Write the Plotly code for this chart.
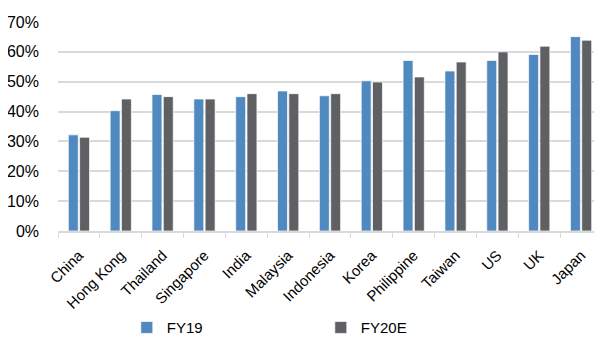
import plotly.graph_objects as go

categories = ["China", "Hong Kong", "Thailand", "Singapore", "India", "Malaysia",
              "Indonesia", "Korea", "Philippine", "Taiwan", "US", "UK", "Japan"]
fy19 = [0.322, 0.403, 0.457, 0.442, 0.450, 0.469, 0.453, 0.503, 0.571, 0.536, 0.571, 0.591, 0.651]
fy20e = [0.314, 0.442, 0.450, 0.442, 0.460, 0.460, 0.460, 0.499, 0.516, 0.566, 0.600, 0.619, 0.639]
y_ticks = [0, 0.1, 0.2, 0.3, 0.4, 0.5, 0.6, 0.7]

fig = go.Figure()
fig.add_trace(go.Bar(x=categories, y=fy19, name="FY19",
                     marker=dict(color="#4F89BF", line=dict(color="rgba(255,255,255,0.7)", width=1))))
fig.add_trace(go.Bar(x=categories, y=fy20e, name="FY20E",
                     marker=dict(color="#5F6064", line=dict(color="rgba(255,255,255,0.7)", width=1))))

fig.update_layout(
    width=594, height=333,
    margin=dict(l=50, r=0, t=14, b=110),
    paper_bgcolor="white", plot_bgcolor="white",
    font=dict(family="Liberation Sans, Arial, sans-serif", color="#000000", size=15),
    barmode="group", bargap=0.46, bargroupgap=0.12,
    showlegend=True,
    legend=dict(orientation="h", xref="container", yref="container",
                x=0.2, xanchor="left", y=0.04, yanchor="middle",
                font=dict(size=15), entrywidth=149, entrywidthmode="pixels",
                itemwidth=30, tracegroupgap=0),
    xaxis=dict(tickangle=-45, tickfont=dict(size=15), ticks="outside", tickson="boundaries",
               ticklen=5, tickcolor="#D9D9D9", showline=True, linecolor="#D9D9D9", linewidth=1.5,
               showgrid=False, automargin=False, ticklabelstandoff=8),
    yaxis=dict(range=[0, 0.7], tickvals=y_ticks, tickformat=".0%", tickfont=dict(size=16),
               showgrid=True, gridcolor="#D9D9D9", gridwidth=1.5, zeroline=False,
               ticks="", showline=False, automargin=False, ticklabelstandoff=18),
)

fig.write_html("out.html")
